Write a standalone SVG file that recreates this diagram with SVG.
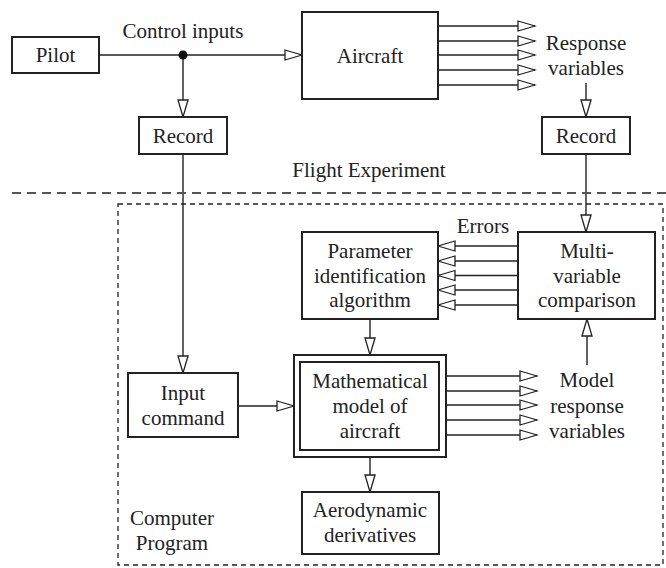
<svg xmlns="http://www.w3.org/2000/svg" width="666" height="568" viewBox="0 0 666 568" font-family="'Liberation Serif', 'DejaVu Serif', serif">
<defs>
<style>
.box{fill:#fff;stroke:#222;stroke-width:2}
.ln{fill:none;stroke:#222;stroke-width:1.4}
text{font-family:'Liberation Serif','DejaVu Serif',serif;font-size:21px;fill:#222}
.c{text-anchor:middle}
</style>
<marker id="ah" markerUnits="userSpaceOnUse" markerWidth="20" markerHeight="14" viewBox="-1 -1 20 14" refX="17" refY="6" orient="auto">
<path d="M0,1 L17,6 L0,11 Z" fill="#fff" stroke="#222" stroke-width="1.3"/>
</marker>
</defs>
<rect width="666" height="568" fill="#fff"/>
<g id="connectors">
<line class="ln" x1="99" y1="55" x2="302" y2="55" marker-end="url(#ah)"/>
<line class="ln" x1="183" y1="55" x2="183" y2="117" marker-end="url(#ah)"/>
<circle cx="183" cy="55" r="4.5" fill="#111"/>
<line class="ln" x1="438" y1="26" x2="535" y2="26" marker-end="url(#ah)"/>
<line class="ln" x1="438" y1="41" x2="535" y2="41" marker-end="url(#ah)"/>
<line class="ln" x1="438" y1="55" x2="535" y2="55" marker-end="url(#ah)"/>
<line class="ln" x1="438" y1="70" x2="535" y2="70" marker-end="url(#ah)"/>
<line class="ln" x1="438" y1="85" x2="535" y2="85" marker-end="url(#ah)"/>
<line class="ln" x1="586" y1="83" x2="586" y2="117" marker-end="url(#ah)"/>
<line class="ln" x1="183" y1="154" x2="183" y2="373" marker-end="url(#ah)"/>
<line class="ln" x1="586" y1="154" x2="586" y2="232" marker-end="url(#ah)"/>
<line class="ln" x1="518" y1="246" x2="438" y2="246" marker-end="url(#ah)"/>
<line class="ln" x1="518" y1="261" x2="438" y2="261" marker-end="url(#ah)"/>
<line class="ln" x1="518" y1="275.5" x2="438" y2="275.5" marker-end="url(#ah)"/>
<line class="ln" x1="518" y1="290" x2="438" y2="290" marker-end="url(#ah)"/>
<line class="ln" x1="518" y1="305" x2="438" y2="305" marker-end="url(#ah)"/>
<line class="ln" x1="370" y1="319" x2="370" y2="355" marker-end="url(#ah)"/>
<line class="ln" x1="238" y1="406" x2="294" y2="406" marker-end="url(#ah)"/>
<line class="ln" x1="446" y1="376" x2="537" y2="376" marker-end="url(#ah)"/>
<line class="ln" x1="446" y1="391" x2="537" y2="391" marker-end="url(#ah)"/>
<line class="ln" x1="446" y1="405" x2="537" y2="405" marker-end="url(#ah)"/>
<line class="ln" x1="446" y1="420" x2="537" y2="420" marker-end="url(#ah)"/>
<line class="ln" x1="446" y1="435" x2="537" y2="435" marker-end="url(#ah)"/>
<line class="ln" x1="587" y1="365" x2="587" y2="319" marker-end="url(#ah)"/>
<line class="ln" x1="370" y1="457" x2="370" y2="492" marker-end="url(#ah)"/>
</g>
<g id="separator">
<line x1="12" y1="193" x2="666" y2="193" stroke="#555" stroke-width="2" stroke-dasharray="9,6"/>
<text x="369" y="177" class="c">Flight Experiment</text>
</g>
<g id="computer-program">
<rect x="118" y="204" width="545" height="361" fill="none" stroke="#222" stroke-width="1.3" stroke-dasharray="5,4"/>
<text x="172" y="525" class="c">Computer</text>
<text x="172" y="550" class="c">Program</text>
</g>
<g id="pilot"><rect class="box" x="12" y="37" width="87" height="36"/><text x="55.5" y="62" class="c">Pilot</text></g>
<g id="control-inputs-label"><text x="183" y="38" class="c">Control inputs</text></g>
<g id="aircraft"><rect class="box" x="302" y="12" width="136" height="87"/><text x="370" y="63" class="c">Aircraft</text></g>
<g id="response-label"><text x="586" y="50" class="c">Response</text><text x="586" y="75" class="c">variables</text></g>
<g id="record-left"><rect class="box" x="139" y="117" width="88" height="37"/><text x="183" y="143" class="c">Record</text></g>
<g id="record-right"><rect class="box" x="542" y="117" width="88" height="37"/><text x="586" y="143" class="c">Record</text></g>
<g id="param"><rect class="box" x="302" y="232" width="136" height="87"/><text x="370" y="258" class="c">Parameter</text><text x="370" y="283" class="c">identification</text><text x="370" y="307" class="c">algorithm</text></g>
<g id="errors-label"><text x="483" y="233" class="c">Errors</text></g>
<g id="comparison"><rect class="box" x="518" y="232" width="137" height="87"/><text x="587" y="258" class="c">Multi-</text><text x="587" y="283" class="c">variable</text><text x="587" y="307" class="c">comparison</text></g>
<g id="input-command"><rect class="box" x="128" y="373" width="110" height="64"/><text x="183" y="400" class="c">Input</text><text x="183" y="425" class="c">command</text></g>
<g id="math-model"><rect class="box" x="294" y="355" width="152" height="102"/><rect class="box" x="300" y="362" width="139" height="88"/><text x="370" y="388" class="c">Mathematical</text><text x="370" y="413" class="c">model of</text><text x="370" y="438" class="c">aircraft</text></g>
<g id="model-response-label"><text x="587" y="387" class="c">Model</text><text x="587" y="413" class="c">response</text><text x="587" y="438" class="c">variables</text></g>
<g id="aero"><rect class="box" x="302" y="492" width="137" height="62"/><text x="370" y="517" class="c">Aerodynamic</text><text x="370" y="542" class="c">derivatives</text></g>
</svg>
